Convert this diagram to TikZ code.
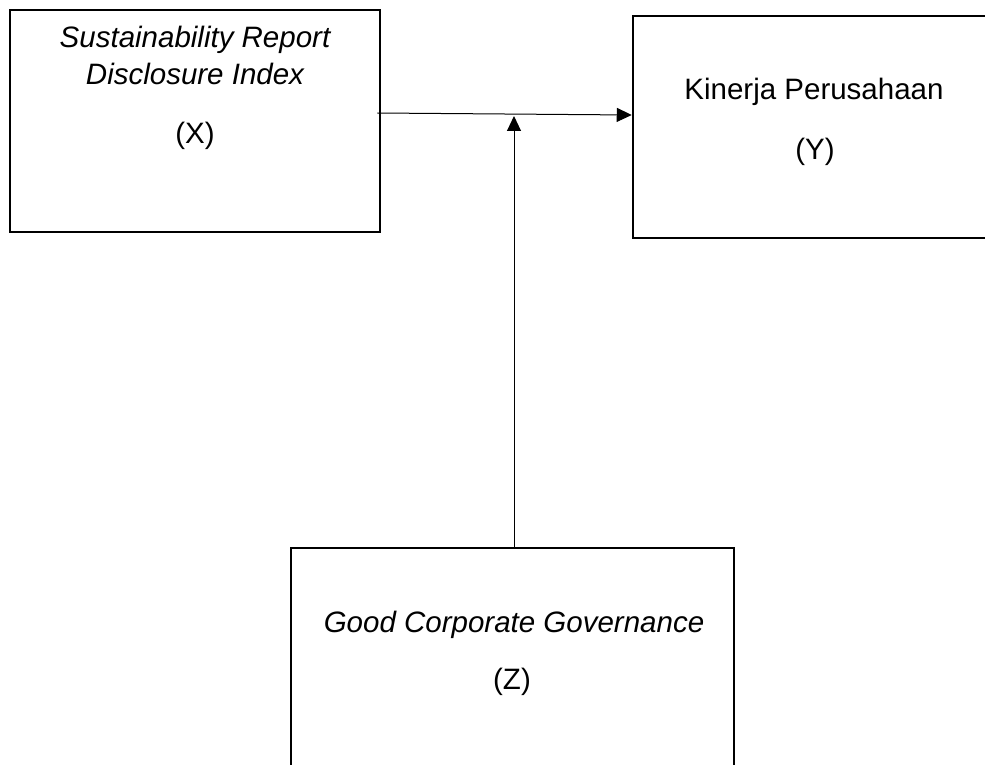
\documentclass[tikz,border=0pt]{standalone}
\usepackage{fontspec}
\setmainfont{Liberation Sans}
\usetikzlibrary{arrows.meta}

\tikzset{
  varbox/.style={draw, line width=2.5pt, inner sep=0pt},
  varname/.style={anchor=base, align=center, inner sep=0pt,
    font=\fontsize{29.5}{37}\selectfont},
  conn/.style={line width=1pt, -{Triangle[length=15pt,width=14pt]}}
}

\begin{document}
\begin{tikzpicture}[x=1pt,y=-1pt]
\useasboundingbox (0,0) rectangle (985,765);
\clip (0,0) rectangle (985,765);
        %Boxes
    \node[varbox, minimum width=370pt, minimum height=222pt] (sr) at (195,121) {};
    \node[varbox, minimum width=400pt, minimum height=222pt] (kp) at (833,127) {};
    \node[varbox, minimum width=443pt, minimum height=240pt] (gcg) at (512.5,668) {};
        %Labels
    \node[varname] (srname) at (195,85) {\itshape Sustainability Report\\\itshape Disclosure Index};
    \node[varname] (srvar) at (195,143) {(X)};
    \node[varname] (kpname) at (814,100) {Kinerja Perusahaan};
    \node[varname] (kpvar) at (815,159) {(Y)};
    \node[varname] (gcgname) at (514,632) {\itshape Good Corporate Governance};
    \node[varname] (gcgvar) at (512,689) {(Z)};
        %Arrows
    \coordinate (mod) at (514,116);
    \draw[conn] ([xshift=-4pt,yshift=8pt]sr.east) -- ([yshift=12pt]kp.west);
    \draw[conn] (gcg.north -| mod) -- (mod);
\end{tikzpicture}
\end{document}
